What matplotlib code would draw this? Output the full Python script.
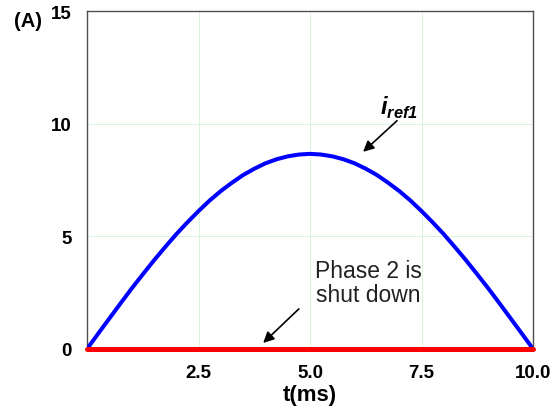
import numpy as np
import matplotlib.pyplot as plt

plt.rcParams['font.family'] = ['Liberation Sans', 'DejaVu Sans']
plt.rcParams['mathtext.fontset'] = 'custom'
plt.rcParams['mathtext.bf'] = 'Liberation Sans:bold:italic'
plt.rcParams['mathtext.rm'] = 'Liberation Sans:bold'

# reference current of phase 1 over one half period (A)
t_ms = [0.0, 0.25, 0.5, 0.75, 1.0, 1.25, 1.5, 1.75, 2.0, 2.25, 2.5,
        2.75, 3.0, 3.25, 3.5, 3.75, 4.0, 4.25, 4.5, 4.75, 5.0,
        5.25, 5.5, 5.75, 6.0, 6.25, 6.5, 6.75, 7.0, 7.25, 7.5,
        7.75, 8.0, 8.25, 8.5, 8.75, 9.0, 9.25, 9.5, 9.75, 10.0]
i_ref1 = [0.0, 0.68, 1.35, 2.02, 2.68, 3.31, 3.93, 4.52, 5.09, 5.62, 6.12,
          6.59, 7.01, 7.38, 7.72, 8.00, 8.24, 8.42, 8.55, 8.63, 8.66,
          8.63, 8.55, 8.42, 8.24, 8.00, 7.72, 7.38, 7.01, 6.59, 6.12,
          5.62, 5.09, 4.52, 3.93, 3.31, 2.68, 2.02, 1.35, 0.68, 0.0]
# phase 2 current (shut down)
t_ph2 = [0.0, 10.0]
i_ph2 = [0.0, 0.0]

x_ticks = [2.5, 5.0, 7.5, 10.0]
x_labels = ['2.5', '5.0', '7.5', '10.0']
y_ticks = [0, 5, 10, 15]
y_labels = ['0', '5', '10', '15']

fig = plt.figure(figsize=(5.59, 4.14), dpi=100)
ax = fig.add_axes([0.1556, 0.1546, 0.798, 0.8164])

ax.plot(t_ms, i_ref1, color='#0000ff', lw=2.9, solid_capstyle='round',
        solid_joinstyle='round', zorder=3)
ax.plot(t_ph2, i_ph2, color='#ff0000', lw=3.6, solid_capstyle='round',
        clip_on=False, zorder=4)

ax.set_xlim(0, 10)
ax.set_ylim(0, 15)
ax.set_xticks(x_ticks)
ax.set_xticklabels(x_labels)
ax.set_yticks(y_ticks)
ax.set_yticklabels(y_labels)
ax.tick_params(length=0, labelsize=13.5)
ax.tick_params(axis='x', pad=11)
ax.tick_params(axis='y', pad=11)
for lbl in ax.get_xticklabels() + ax.get_yticklabels():
    lbl.set_fontweight('bold')

ax.grid(True, color='#dcf2dc', lw=0.7)
ax.set_axisbelow(True)
for s in ax.spines.values():
    s.set_color('#505050')
    s.set_linewidth(1.0)

ax.set_xlabel('t(ms)', fontsize=16, fontweight='bold', labelpad=2)

ax.annotate('', xy=(6.19, 8.75), xytext=(6.95, 10.13),
            arrowprops=dict(arrowstyle='-|>', color='black', lw=1.2,
                            mutation_scale=16, shrinkA=0, shrinkB=0))
ax.text(7.0, 10.75, r'$\mathbf{i}_{\mathbf{ref1}}$', fontsize=17,
        ha='center', va='center')

ax.annotate('', xy=(3.95, 0.27), xytext=(4.75, 1.78),
            arrowprops=dict(arrowstyle='-|>', color='black', lw=1.2,
                            mutation_scale=16, shrinkA=0, shrinkB=0))
ax.text(6.3, 2.95, 'Phase 2 is\nshut down', fontsize=16.5, color='#222222',
        ha='center', va='center', linespacing=1.1)

fig.text(0.05, 0.949, '(A)', fontsize=14.5, fontweight='bold',
         ha='center', va='center')

fig.savefig('out.png', dpi=100)
